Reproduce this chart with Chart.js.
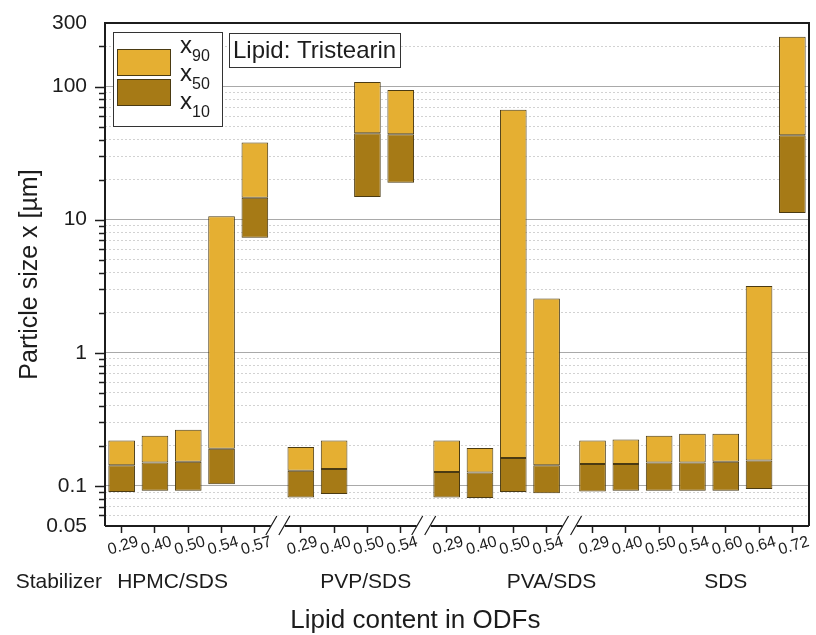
<!DOCTYPE html>
<html>
<head>
<meta charset="utf-8">
<title>Particle size of tristearin ODFs</title>
<script src="https://cdn.jsdelivr.net/npm/chart.js@4.4.1/dist/chart.umd.min.js"></script>
<style>
  html, body { margin: 0; padding: 0; background: #fff; }
  #wrap { width: 816px; height: 635px; position: relative; }
</style>
</head>
<body>
<div id="wrap"><canvas id="chart"></canvas></div>
<script>
// stabilizer groups, lipid content of each formulation
const groups = ['HPMC/SDS', 'PVP/SDS', 'PVA/SDS', 'SDS'];
const groupOf = [0, 0, 0, 0, 0, 1, 1, 1, 1, 2, 2, 2, 2, 3, 3, 3, 3, 3, 3, 3];
const lipidContent = ['0.29', '0.40', '0.50', '0.54', '0.57',
                      '0.29', '0.40', '0.50', '0.54',
                      '0.29', '0.40', '0.50', '0.54',
                      '0.29', '0.40', '0.50', '0.54', '0.60', '0.64', '0.72'];

// particle size in µm
const x10 = [0.090, 0.092, 0.092, 0.103, 7.3,
             0.082, 0.087, 14.8, 18.9,
             0.082, 0.081, 0.090, 0.088,
             0.091, 0.092, 0.092, 0.092, 0.092, 0.095, 11.2];
const x50 = [0.143, 0.150, 0.152, 0.190, 14.6,
             0.130, 0.134, 44.5, 43.8,
             0.127, 0.126, 0.162, 0.143,
             0.146, 0.146, 0.150, 0.150, 0.152, 0.155, 43.0];
const x90 = [0.219, 0.238, 0.264, 10.6, 37.9,
             0.196, 0.219, 108, 94,
             0.219, 0.193, 67, 2.56,
             0.219, 0.223, 0.238, 0.247, 0.247, 3.17, 237];

const yTickLabels = ['0.05', '0.1', '1', '10', '100', '300'];
const yMajor = [0.1, 1, 10, 100];

// extra space (in category units) between stabilizer groups
const GROUP_GAP = 0.38;
const xPos = lipidContent.map((_, i) => i + groupOf[i] * GROUP_GAP);
const breaks = groups.slice(1).map((_, g) => {
  const last = groupOf.lastIndexOf(g);
  return (xPos[last] + xPos[last + 1]) / 2;
});
// where each group name sits, offset from the group's first bar
const groupLabelAt = [1.53, 1.95, 3.15, 4.0];

// log ticks 0.05 ... 300 (1-9 per decade)
const yTicks = [];
[0.01, 0.1, 1, 10, 100].forEach(d => {
  for (let m = 1; m <= 9; m++) {
    const v = +(d * m).toPrecision(3);
    if (v >= 0.05 && v <= 300) yTicks.push(v);
  }
});

const FONT = 'Arial, "Liberation Sans", sans-serif';
const INK = '#1c1c1c';
Chart.defaults.font.family = FONT;
Chart.defaults.color = INK;

const decor = {
  id: 'decor',
  afterDraw(chart) {
    const { ctx, chartArea: a, scales: { x, y } } = chart;
    ctx.save();

    // frame; bottom axis is cut at the group breaks
    ctx.strokeStyle = INK;
    ctx.lineWidth = 2;
    ctx.beginPath();
    ctx.moveTo(a.left, a.bottom);
    ctx.lineTo(a.left, a.top);
    ctx.lineTo(a.right, a.top);
    ctx.lineTo(a.right, a.bottom);
    let from = a.left;
    breaks.forEach(b => {
      const bx = x.getPixelForValue(b);
      ctx.moveTo(from, a.bottom);
      ctx.lineTo(bx - 7, a.bottom);
      from = bx + 7;
    });
    ctx.moveTo(from, a.bottom);
    ctx.lineTo(a.right, a.bottom);
    ctx.stroke();

    // break marks
    ctx.lineWidth = 1.2;
    ctx.beginPath();
    breaks.forEach(b => {
      const bx = x.getPixelForValue(b);
      [-6.5, 6.5].forEach(dx => {
        ctx.moveTo(bx + dx - 5.5, a.bottom + 9);
        ctx.lineTo(bx + dx + 5.5, a.bottom - 10);
      });
    });
    ctx.stroke();

    // y tick marks, long on decades, short in between
    ctx.lineWidth = 1.5;
    ctx.beginPath();
    yTicks.forEach(v => {
      if (v === 0.05 || v === 300) return;
      const py = Math.round(y.getPixelForValue(v)) + 0.5;
      const len = yMajor.includes(v) ? 10 : 6;
      ctx.moveTo(a.left - len, py);
      ctx.lineTo(a.left, py);
    });
    ctx.stroke();

    // lipid content labels
    ctx.fillStyle = INK;
    ctx.font = '16px ' + FONT;
    ctx.textAlign = 'center';
    ctx.textBaseline = 'middle';
    xPos.forEach((p, i) => {
      ctx.save();
      ctx.translate(x.getPixelForValue(p) + 1.5, a.bottom + 20);
      ctx.rotate(-17 * Math.PI / 180);
      ctx.fillText(lipidContent[i], 0, 0);
      ctx.restore();
    });

    // stabilizer row
    ctx.font = '21px ' + FONT;
    const rowY = a.bottom + 56;
    ctx.textAlign = 'right';
    ctx.fillText('Stabilizer', a.left - 3, rowY);
    ctx.textAlign = 'center';
    groups.forEach((g, gi) => {
      const first = xPos[groupOf.indexOf(gi)];
      ctx.fillText(g, x.getPixelForValue(first + groupLabelAt[gi]), rowY);
    });

    // x axis title
    ctx.font = '26px ' + FONT;
    ctx.fillText('Lipid content in ODFs', x.getPixelForValue(8.82), a.bottom + 95);

    // legend
    const lx = a.left + 8, ly = a.top + 9;
    ctx.fillStyle = '#fff';
    ctx.fillRect(lx, ly, 109, 94);
    ctx.strokeStyle = '#333';
    ctx.lineWidth = 1;
    ctx.strokeRect(lx + 0.5, ly + 0.5, 109, 94);
    [[chart.data.datasets[1], 17], [chart.data.datasets[0], 47]].forEach(([ds, dy]) => {
      ctx.fillStyle = ds.backgroundColor;
      ctx.fillRect(lx + 4, ly + dy, 54, 27);
      ctx.strokeStyle = ds.borderColor;
      ctx.strokeRect(lx + 4.5, ly + dy + 0.5, 53, 26);
    });
    ctx.fillStyle = INK;
    ctx.textAlign = 'left';
    ctx.textBaseline = 'alphabetic';
    [['90', 21], ['50', 49], ['10', 77]].forEach(([sub, by]) => {
      ctx.font = '24px ' + FONT;
      ctx.fillText('x', lx + 67, ly + by);
      const w = ctx.measureText('x').width;
      ctx.font = '16px ' + FONT;
      ctx.fillText(sub, lx + 67 + w, ly + by + 8);
    });

    // lipid note
    const nx = a.left + 124, ny = a.top + 10;
    ctx.fillStyle = '#fff';
    ctx.fillRect(nx, ny, 171, 34);
    ctx.strokeStyle = '#333';
    ctx.strokeRect(nx + 0.5, ny + 0.5, 171, 34);
    ctx.fillStyle = INK;
    ctx.font = '24px ' + FONT;
    ctx.textBaseline = 'middle';
    ctx.fillText('Lipid: Tristearin', nx + 4, ny + 18);

    ctx.restore();
  }
};

const barStyle = {
  borderColor: '#4a3a12',
  borderWidth: 1,
  borderSkipped: false
};

new Chart(document.getElementById('chart'), {
  type: 'bar',
  data: {
    datasets: [
      Object.assign({
        label: 'x10 - x50',
        data: xPos.map((p, i) => ({ x: p, y: [x10[i], x50[i]] })),
        backgroundColor: '#A67A16'
      }, barStyle),
      Object.assign({
        label: 'x50 - x90',
        data: xPos.map((p, i) => ({ x: p, y: [x50[i], x90[i]] })),
        backgroundColor: '#E5AF32'
      }, barStyle)
    ]
  },
  options: {
    responsive: true,
    maintainAspectRatio: false,
    animation: false,
    layout: { padding: { top: 23, right: 7, left: 0, bottom: 0 } },
    datasets: {
      bar: { grouped: false, categoryPercentage: 1, barPercentage: 0.8 }
    },
    plugins: { legend: { display: false }, tooltip: { enabled: false } },
    scales: {
      x: {
        type: 'linear',
        offset: false,
        min: -0.5,
        max: xPos[xPos.length - 1] + 0.5,
        afterBuildTicks: s => { s.ticks = xPos.map(v => ({ value: v })); },
        afterFit: s => { s.height = 109; },
        ticks: { display: false },
        border: { display: false },
        grid: {
          offset: false,
          drawOnChartArea: false,
          drawTicks: true,
          tickLength: 7,
          tickWidth: 1.5,
          tickColor: INK
        }
      },
      y: {
        type: 'logarithmic',
        min: 0.05,
        max: 300,
        afterBuildTicks: s => { s.ticks = yTicks.map(v => ({ value: v })); },
        afterFit: s => {
          s.width = 105;
          s.paddingTop = 0;
          s.paddingBottom = 0;
        },
        ticks: {
          autoSkip: false,
          padding: 18,
          font: { size: 21 },
          color: INK,
          callback: v => yTickLabels.includes(String(v)) ? String(v) : ''
        },
        border: {
          display: false,
          dash: c => (c.tick && yMajor.includes(c.tick.value)) ? [] : [2, 2]
        },
        grid: {
          drawTicks: false,
          lineWidth: 1,
          color: c => {
            const v = c.tick && c.tick.value;
            if (v === 0.05 || v === 300) return 'rgba(0,0,0,0)';
            return yMajor.includes(v) ? '#a9a9a9' : '#d2d2d2';
          }
        },
        title: {
          display: true,
          text: 'Particle size x [µm]',
          font: { size: 25 },
          color: INK,
          padding: { top: 15, bottom: 0 }
        }
      }
    }
  },
  plugins: [decor]
});
</script>
</body>
</html>
